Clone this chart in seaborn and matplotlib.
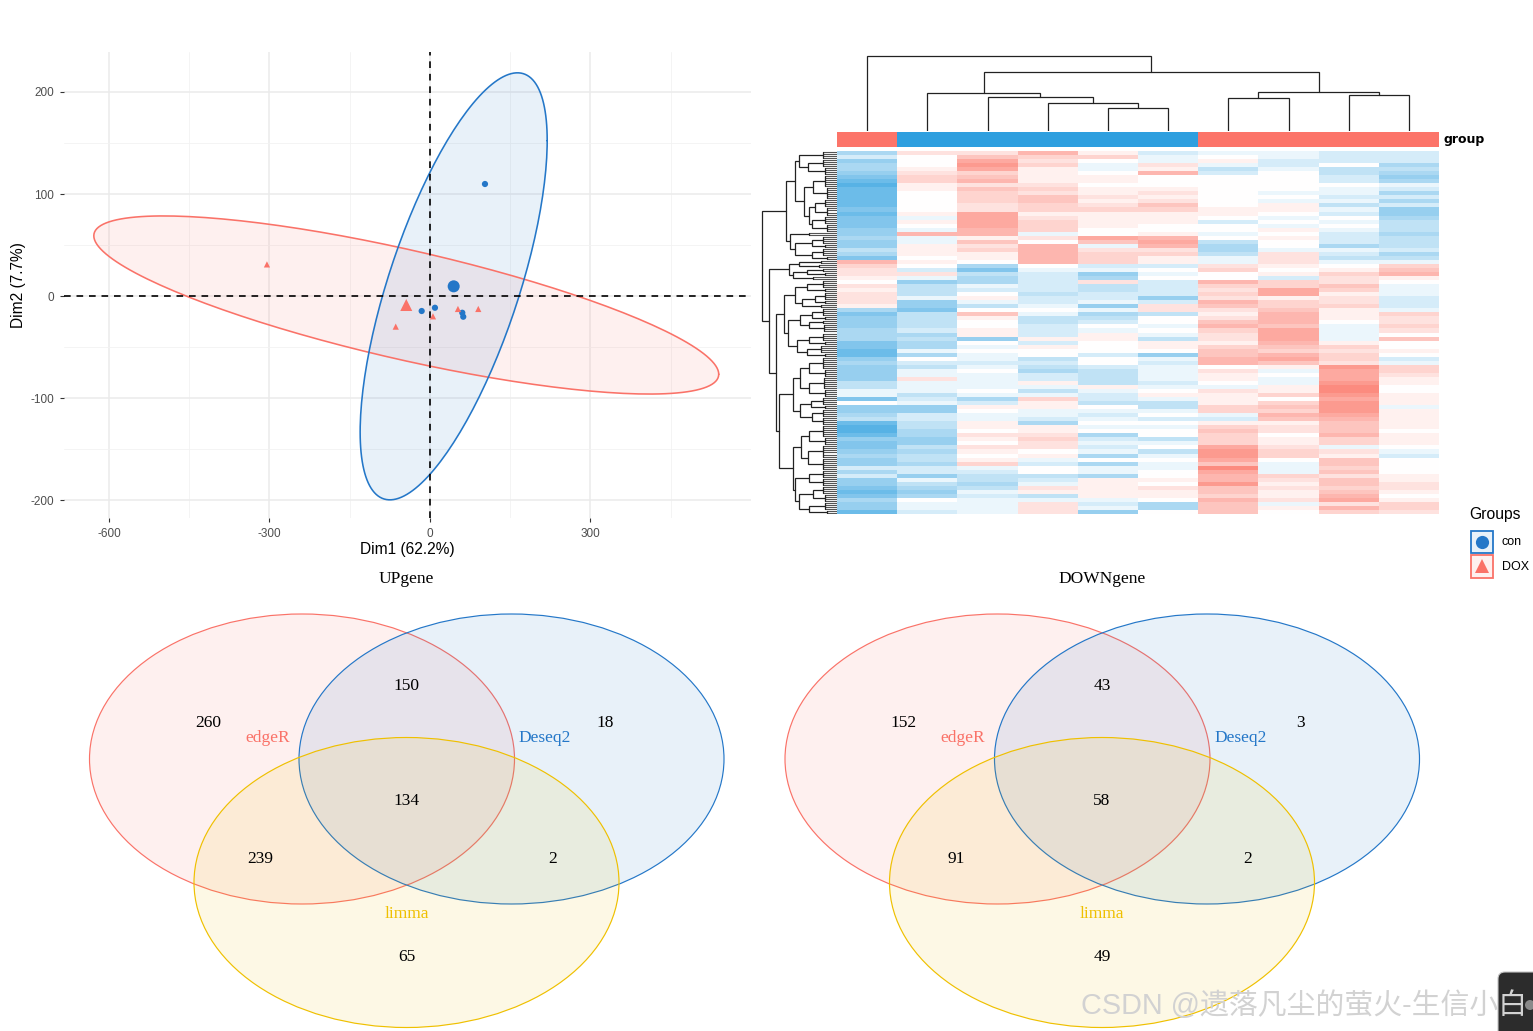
import numpy as np
import pandas as pd
import matplotlib
matplotlib.use("Agg")
import matplotlib.pyplot as plt
from matplotlib.colors import LinearSegmentedColormap, ListedColormap
from matplotlib.patches import Rectangle, Ellipse, FancyBboxPatch, Circle
import seaborn as sns

W, H = 1533, 1031
RED, BLUE, YELLOW = "#FA7268", "#2477C8", "#EFC000"
HM_RED, HM_BLUE = "#FB6F60", "#2E9FDF"

# ---------- PCA data ----------
pca_group = ["con"] * 5 + ["DOX"] * 5
pca_x = [102.8, -15.5, 9.3, 60.4, 62.2, 52.3, 90.3, 5.6, -64, -304.7]
pca_y = [109.8, -14.7, -11.5, -16.4, -20.3, -12.7, -12.7, -19.9, -30, 31]
mean_group = ["con", "DOX"]
mean_x = [44.3, -44.3]
mean_y = [9.5, -8.8]
# ellipse: centre x, centre y, x half-range, y half-range, phase (deg)
ell_con = (44.3, 9.5, 174.8, 209.3, 47)
ell_dox = (-44.3, -8.8, 584, 87.3, 141)
x_major = [-600, -300, 0, 300]
x_minor = [-450, -150, 150, 450]
y_major = [-200, -100, 0, 100, 200]
y_minor = [-150, -50, 50, 150]

# ---------- heatmap data (one list per sample) ----------
s1 = [-4,-2,-5,-4,-4,-5,-6,-7,-8,-7,-7,-7,-7,-7,-6,-7,-6,-6,-6,-5,-5,-4,-5,
      -5,-3,-4,-6,5,3,2,2,1,0,2,1,2,2,2,1,-4,-6,-5,-5,-5,-4,-4,
      -4,-6,-6,-7,-7,-5,-4,-5,-5,-5,-5,-3,-3,-1,-1,-6,0,-5,-5,-4,-3,-7,
      -8,-8,-7,-5,-6,-6,-5,-4,-5,-5,-2,-4,-2,-5,-5,-6,-7,-6,-4,-5,-5,-7]
s2 = [2,0,0,0,1,2,3,3,1,1,0,0,0,0,0,1,-1,1,0,-1,5,-1,-1,
      1,1,1,0,1,0,-2,2,-1,-5,-3,-3,-3,-1,-5,-5,-6,-3,-3,-3,-3,-2,-4,
      -3,-4,-4,-1,-4,0,-2,-3,-1,-1,2,-1,-1,-1,-3,-2,-1,-5,-5,-2,-2,-3,
      -3,-4,-4,-5,-5,-3,-4,-3,-3,-4,-2,-2,-5,-1,-3,-4,-5,-4,0,-1,-1,-2]
s3 = [2,4,6,7,6,3,4,5,2,4,3,3,3,2,2,6,6,6,6,5,5,1,4,
      2,3,1,1,0,-4,-6,-3,-4,-4,-1,-2,0,1,-1,-3,0,4,1,0,0,1,1,
      -5,0,-1,0,-1,-1,-2,-1,0,-1,-1,-1,-1,0,-1,-4,-2,1,0,-1,-1,1,
      1,0,2,1,0,2,1,0,1,3,-1,-2,-3,-3,-4,-3,-1,-2,-1,-1,-1,-1]
s4 = [5,3,2,3,1,1,1,1,2,3,2,4,4,3,3,1,2,3,3,3,-1,2,0,
      5,5,5,5,5,0,-1,-2,-2,-2,-2,-2,-3,-2,-2,-1,0,-1,-3,-3,-2,-2,-2,
      1,-2,1,0,0,-3,-2,-3,-4,-2,-2,1,-1,-3,-1,3,1,1,-1,-1,-2,-4,
      1,1,2,3,2,2,0,1,-1,-2,0,0,-3,-2,-1,2,1,-3,-1,2,2,2]
s5 = [1,3,0,-1,-1,0,1,1,0,1,1,2,1,2,3,1,1,1,1,0,0,6,4,
      -1,2,3,3,3,-2,-1,-5,-4,2,-3,-3,-2,-2,-1,-5,-1,-4,-3,-2,0,-1,1,
      1,0,0,0,-2,0,0,-2,-3,-3,-3,-3,1,-1,-2,-2,-3,0,-1,-2,-1,0,
      -1,0,-4,-2,-1,-2,-1,-4,0,-4,-1,-1,-4,1,1,1,1,1,-1,-2,-1,-5]
s6 = [-2,-1,-1,2,1,5,0,0,0,1,2,1,2,4,3,1,1,1,0,0,1,5,6,
      5,2,3,1,1,-2,0,-1,0,-2,-2,-2,-2,-5,-2,2,2,-3,0,0,-1,0,-1,
      -3,1,1,0,-5,-1,-2,-1,-1,-1,-1,-2,-1,0,1,-1,-3,-3,-1,0,-2,0,
      -1,0,0,-3,-1,0,-3,-1,0,-1,-1,0,0,1,0,2,1,1,0,-4,-4,0]
s7 = [-1,0,1,-1,-3,-2,0,0,0,0,0,0,0,0,1,1,0,-2,0,0,-1,0,-3,
      -4,-4,-3,-1,-1,2,3,0,0,5,3,2,3,2,5,4,2,1,2,4,5,3,2,
      2,1,3,4,4,5,5,0,2,1,1,0,-1,2,1,1,1,3,3,-1,-2,1,
      3,4,3,3,3,6,7,7,6,4,8,6,5,5,7,4,4,3,5,4,4,4]
s8 = [-1,-1,-2,-2,-1,0,0,0,0,0,-1,0,-1,1,1,0,-1,0,-1,1,0,1,0,
      0,-1,2,2,2,1,0,1,-2,3,3,6,6,1,3,3,4,5,5,5,4,6,6,
      6,5,4,3,5,6,4,1,-1,0,-1,-1,1,1,3,0,3,4,3,5,4,1,
      2,2,0,1,1,2,3,3,0,-1,-1,-1,3,2,1,2,1,1,2,-1,1,0]
s9 = [-2,-2,-2,0,-3,-3,-2,-2,0,-1,-1,-2,-1,-3,-1,-2,0,-1,0,-1,-2,-2,-2,
      -4,-1,-2,-3,-1,0,1,3,2,2,4,3,1,2,2,3,1,1,1,0,-1,-1,-1,
      -1,1,3,2,3,3,2,7,6,6,6,7,8,8,7,6,7,7,7,6,5,4,
      4,4,5,3,3,-1,2,1,4,4,3,4,2,4,4,3,4,5,6,2,5,3]
s10 = [-2,-2,-2,-4,-3,-4,-5,-4,-1,-2,-4,-2,-4,-2,-5,-5,-4,-3,-3,-3,-4,-3,-3,
       -3,-2,-4,-3,-1,3,4,5,1,0,-1,-1,-1,-2,-2,-2,-1,3,2,2,3,2,0,
       4,0,0,1,0,-2,-1,3,3,2,1,1,0,0,1,1,1,-1,1,1,1,1,
       1,0,1,1,1,0,-1,-2,0,0,0,0,1,1,2,2,1,0,1,3,3,2]
group_codes = [1, 0, 0, 0, 0, 0, 1, 1, 1, 1]

# column tree: (height, left, right); an int is a sample position
col_tree = (75.5, 0,
            (59.5, (38.5, 1, (34.3, 2, (27.7, 3, (23, 4, 5)))),
             (38.7, (32.7, 6, 7), (36.3, 8, 9))))

# row tree: ("N", height, upper, lower); ("C", height, first row, end row)
def N(h, a, b): return ("N", h, a, b)
def C(h, a, b): return ("C", h, a, b)
row_top = N(51,
    N(42, N(38, C(14,0,2), N(29, C(14,2,4), C(12,4,6))),
          N(33, N(24, C(12,6,9), C(10,9,12)),
                N(28, N(22, C(12,12,14), C(10,14,16)), N(25, C(12,16,18), C(10,18,20))))),
    N(47, C(28,20,21), N(42, N(25, C(14,21,23), C(12,23,24)), N(25, C(14,24,26), C(10,26,27)))))
row_g1 = N(48, N(38, C(16,27,28), C(18,28,29)),
           N(44, N(30, C(14,29,30), C(12,30,31)), C(24,31,32)))
row_g2 = N(42, N(30, C(14,32,34), C(12,34,35)),
           N(35, N(22, C(12,35,37), C(12,37,38)), C(16,38,39)))
row_g3 = N(49, N(37, N(25, C(14,39,41), C(12,41,42)), N(28, C(14,42,43), C(13,43,45))),
           N(40, N(28, C(14,45,47), C(12,47,48)), N(30, C(16,48,50), C(12,50,51))))
row_lo1 = N(44, N(37, N(28, C(14,51,54), C(12,54,56)), N(28, C(13,56,59), C(12,59,61))),
            N(37, N(26, C(14,61,63), C(12,63,64)), N(25, C(14,64,66), C(14,66,68))))
row_lo2 = N(44, N(36, N(28, C(14,68,71), C(12,71,73)), N(29, C(14,73,76), C(14,76,79))),
            N(42, N(28, C(14,79,81), C(14,81,83)),
                  N(38, N(24, C(14,83,85), C(12,85,87)), N(28, C(12,87,89), C(10,89,90)))))
row_tree = N(75, row_top,
             N(68, row_g1, N(60.7, N(53, row_g2, row_g3), N(58, row_lo1, row_lo2))))

# ---------- Venn data ----------
venn_names = ["edgeR", "Deseq2", "limma"]
venn_colors = [RED, BLUE, YELLOW]
venn_cx = [-104.5, 105, 0]
venn_cy = [0, 0, -123.5]
venn_w, venn_h = 425, 290
name_x = [-139, 138.5, 0]
name_y = [21, 21, -155]
count_x = [-198.5, 0, 198.5, 0, -146, 146, 0]
count_y = [36, 73, 36, -42, -100, -100, -198]
up_counts = [260, 150, 18, 134, 239, 2, 65]
down_counts = [152, 43, 3, 58, 91, 2, 49]

# ---------- drawing ----------
sns.set_theme(style="white")
plt.rcParams["font.family"] = ["Liberation Sans", "DejaVu Sans"]
plt.rcParams["axes.unicode_minus"] = False
fig = plt.figure(figsize=(W / 100, H / 100), dpi=100, facecolor="white")


def ax_px(l, t, r, b, **kw):
    return fig.add_axes([l / W, 1 - b / H, (r - l) / W, (b - t) / H], **kw)


# PCA panel
ax = ax_px(64, 52, 751, 518)
ax.set_xlim(-684, 600)
ax.set_ylim(-217.6, 239.2)
sns.despine(ax=ax, left=True, bottom=True)
ax.set_xticks(x_major)
ax.set_yticks(y_major)
ax.set_xticks(x_minor, minor=True)
ax.set_yticks(y_minor, minor=True)
ax.grid(True, which="major", color="#ebebeb", lw=1.1)
ax.grid(True, which="minor", color="#f2f2f2", lw=0.6)
ax.set_axisbelow(True)
ax.tick_params(which="major", length=3, width=0.8, color="#333333", labelsize=8.5,
               labelcolor="#4d4d4d", bottom=True, left=True, pad=4)
ax.tick_params(which="minor", length=0)
t = np.radians(np.arange(0, 361, 2))
for (cx, cy, a, b, ph), col in ((ell_dox, RED), (ell_con, BLUE)):
    ex = cx + a * np.cos(t)
    ey = cy + b * np.cos(t + np.radians(ph))
    ax.fill(ex, ey, color=col, alpha=0.1, lw=0, zorder=2)
    ax.plot(ex, ey, color=col, lw=1.15, zorder=3)
ax.axhline(0, color="black", lw=1.2, dashes=(4, 3.5), zorder=4)
ax.axvline(0, color="black", lw=1.2, dashes=(4, 3.5), zorder=4)
pal = {"con": BLUE, "DOX": RED}
mk = {"con": "o", "DOX": "^"}
pts = pd.DataFrame({"x": pca_x, "y": pca_y, "g": pca_group})
means = pd.DataFrame({"x": mean_x, "y": mean_y, "g": mean_group})
sns.scatterplot(data=pts, x="x", y="y", hue="g", style="g", palette=pal, markers=mk,
                s=20, linewidth=0, legend=False, ax=ax, zorder=5)
sns.scatterplot(data=means, x="x", y="y", hue="g", style="g", palette=pal, markers=mk,
                s=75, linewidth=0, legend=False, ax=ax, zorder=5)
ax.set_xlabel("Dim1 (62.2%)", fontsize=11.2, color="black", labelpad=1.5)
ax.set_ylabel("Dim2 (7.7%)", fontsize=11.2, color="black", labelpad=3)

# Heatmap
hm_cmap = LinearSegmentedColormap.from_list("bwr2", [HM_BLUE, "#FFFFFF", HM_RED])
matrix = np.array([s1, s2, s3, s4, s5, s6, s7, s8, s9, s10], float).T
ax = ax_px(837, 151, 1439, 514)
sns.heatmap(matrix, cmap=hm_cmap, vmin=-10, vmax=10, cbar=False, xticklabels=False,
            yticklabels=False, ax=ax)

# Group strip
ax = ax_px(837, 132, 1439, 146.5)
sns.heatmap(np.array(group_codes)[None, :], cmap=ListedColormap([HM_BLUE, "#FC7469"]), vmin=0, vmax=1,
            cbar=False, xticklabels=False, yticklabels=False, ax=ax)

# Column dendrogram
ax = ax_px(837, 52, 1439, 131)
ax.set_xlim(0, 10)
ax.set_ylim(0, 79)
ax.axis("off")


def draw_col(node):
    if isinstance(node, int):
        return node + 0.5, 0
    h, a, b = node
    xa, ha = draw_col(a)
    xb, hb = draw_col(b)
    ax.plot([xa, xa, xb, xb], [ha, h, h, hb], color="#222222", lw=0.9, solid_joinstyle="miter")
    return (xa + xb) / 2, h


draw_col(col_tree)

# Row dendrogram
ax = ax_px(760, 151, 837, 514)
ax.set_xlim(77, 0)
ax.set_ylim(90, 0)
ax.axis("off")


def draw_row(node):
    kind, h, a, b = node
    if kind == "C":
        leaves = np.arange(a + 0.25, b, 0.5)
        ax.hlines(leaves, 0, h, color="#555555", lw=0.8)
        ax.plot([h, h], [leaves[0], leaves[-1]], color="#222222", lw=0.9)
        return (leaves[0] + leaves[-1]) / 2, h
    ya, ha = draw_row(a)
    yb, hb = draw_row(b)
    ax.plot([ha, h, h, hb], [ya, ya, yb, yb], color="#222222", lw=0.9, solid_joinstyle="miter")
    return (ya + yb) / 2, h


draw_row(row_tree)


# Venn panels
def venn(left, title, counts):
    ax = ax_px(left, 590, left + 693, 1031)
    ax.set_xlim(-346.5, 346.5)
    ax.set_ylim(-272, 169)
    ax.axis("off")
    for cx, cy, col in zip(venn_cx, venn_cy, venn_colors):
        ax.add_patch(Ellipse((cx, cy), venn_w, venn_h, fc=col, alpha=0.1, lw=0))
        ax.add_patch(Ellipse((cx, cy), venn_w, venn_h, fc="none", ec=col, lw=0.85))
    fam = "Liberation Serif"
    for nm, x, y, col in zip(venn_names, name_x, name_y, venn_colors):
        ax.text(x, y, nm, color=col, ha="center", va="center", fontsize=12.5, family=fam)
    for v, x, y in zip(counts, count_x, count_y):
        ax.text(x, y, str(v), color="black", ha="center", va="center", fontsize=12.5, family=fam)
    ax.text(0, 180, title, color="black", ha="center", va="center", fontsize=12.5, family=fam,
            clip_on=False)


venn(60, "UPgene", up_counts)
venn(755.5, "DOWNgene", down_counts)

# Overlay: legend, strip label, watermark
ov = fig.add_axes([0, 0, 1, 1], facecolor="none", zorder=10)
ov.set_xlim(0, W)
ov.set_ylim(H, 0)
ov.axis("off")
ov.text(1443, 140, "group", fontsize=9.0, fontweight="bold", family="DejaVu Sans",
        va="center", ha="left", color="black")
ov.text(1469, 515, "Groups", fontsize=11.3, va="center", ha="left", color="black")
for top, col, mark, ms, label in ((530.5, BLUE, "o", 9.5, "con"), (555, RED, "^", 10.5, "DOX")):
    ov.add_patch(Rectangle((1470.5, top), 22.5, 22.5, fc=col, ec="none", alpha=0.1))
    ov.add_patch(Rectangle((1470.5, top), 22.5, 22.5, fc="none", ec=col, lw=1.3))
    ov.plot([1481.8], [top + 11], marker=mark, ms=ms, color=col, mew=0, ls="none")
    ov.text(1502, top + 11.5, label, fontsize=9, va="center", ha="left", color="black")
ov.add_patch(FancyBboxPatch((1498, 972), 60, 80, boxstyle="round,pad=0,rounding_size=7",
                            fc="#2c2c2c", ec="#c4c4c4", lw=0.8, mutation_aspect=1))
ov.add_patch(Circle((1530, 1005), 5, fc="#8a8a8a", ec="none"))
ov.text(1081, 1006, "CSDN @遗落凡尘的萤火-生信小白", fontsize=20.8,
        family=["Liberation Sans", "Noto Sans CJK SC"], color="#d2d2d2", va="center", ha="left")

fig.savefig("out.png", dpi=100, facecolor="white")
